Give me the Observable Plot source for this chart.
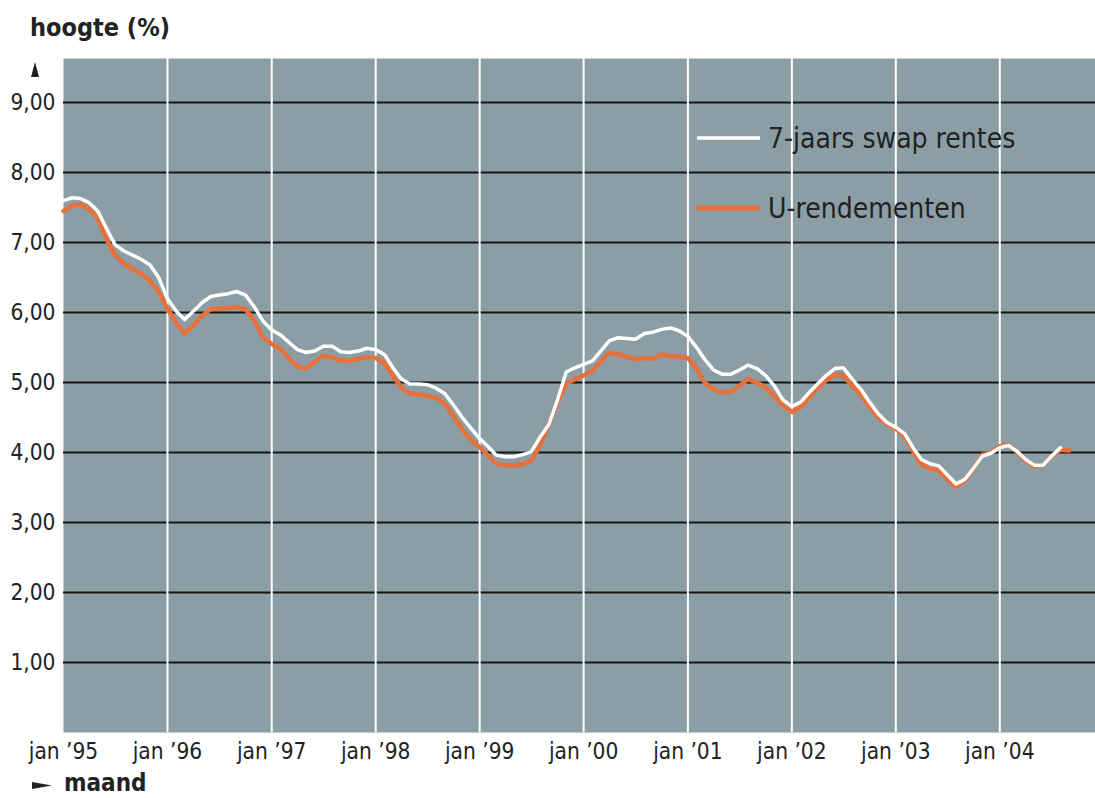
<!DOCTYPE html>
<html>
<head>
<meta charset="utf-8">
<script src="https://cdn.jsdelivr.net/npm/d3@7"></script>
<script src="https://cdn.jsdelivr.net/npm/@observablehq/plot@0.6"></script>
<style>
  html, body { margin: 0; padding: 0; background: #ffffff; }
</style>
</head>
<body>
<div id="chart"></div>
<script>
// ---- data (monthly, starting January 1995) ----
const startYear = 1995;
const seriesNames = ["7-jaars swap rentes", "U-rendementen"];
const swapRentes = [
  7.60, 7.64, 7.63, 7.57, 7.45, 7.20, 6.97, 6.88, 6.82, 6.76, 6.68, 6.50,
  6.20, 6.02, 5.90, 6.02, 6.14, 6.23, 6.25, 6.27, 6.30, 6.25, 6.08, 5.88,
  5.75, 5.68, 5.58, 5.47, 5.43, 5.45, 5.52, 5.52, 5.44, 5.43, 5.45, 5.49,
  5.47, 5.40, 5.22, 5.05, 4.98, 4.98, 4.97, 4.92, 4.84, 4.68, 4.50, 4.35,
  4.20, 4.08, 3.96, 3.94, 3.94, 3.97, 4.01, 4.22, 4.40, 4.75, 5.15, 5.21,
  5.26, 5.31, 5.45, 5.60, 5.64, 5.63, 5.62, 5.70, 5.72, 5.76, 5.78, 5.74,
  5.66, 5.50, 5.33, 5.18, 5.12, 5.12, 5.18, 5.25, 5.20, 5.10, 4.95, 4.75,
  4.66, 4.72, 4.85, 4.98, 5.10, 5.20, 5.21, 5.05, 4.90, 4.72, 4.55, 4.43,
  4.36, 4.27, 4.08, 3.90, 3.84, 3.81, 3.68, 3.55, 3.62, 3.78, 3.95, 3.99,
  4.07, 4.10, 4.02, 3.90, 3.82, 3.82, 3.95, 4.07
];
const uRendementen = [
  7.45, 7.53, 7.55, 7.48, 7.35, 7.05, 6.82, 6.70, 6.62, 6.55, 6.45, 6.30,
  6.05, 5.85, 5.70, 5.82, 5.95, 6.05, 6.06, 6.06, 6.08, 6.05, 5.88, 5.65,
  5.55, 5.48, 5.35, 5.23, 5.20, 5.30, 5.38, 5.36, 5.31, 5.31, 5.34, 5.36,
  5.35, 5.28, 5.10, 4.93, 4.84, 4.83, 4.81, 4.78, 4.70, 4.52, 4.33, 4.18,
  4.08, 3.95, 3.84, 3.82, 3.81, 3.84, 3.88, 4.10, 4.40, 4.72, 4.98, 5.05,
  5.10, 5.17, 5.30, 5.43, 5.40, 5.37, 5.33, 5.35, 5.34, 5.40, 5.38, 5.37,
  5.35, 5.20, 5.00, 4.90, 4.86, 4.87, 4.95, 5.05, 5.00, 4.93, 4.80, 4.67,
  4.58, 4.65, 4.78, 4.92, 5.03, 5.11, 5.10, 4.95, 4.82, 4.65, 4.50, 4.40,
  4.34, 4.24, 4.03, 3.83, 3.77, 3.74, 3.62, 3.51, 3.60, 3.78, 3.97, 4.00,
  4.09, 4.11, 4.01, 3.88, 3.80, 3.82, 3.95, 4.04, 4.03
];
const yTicks = [1, 2, 3, 4, 5, 6, 7, 8, 9];
const xTickYears = [1995, 1996, 1997, 1998, 1999, 2000, 2001, 2002, 2003, 2004];
const yTitle = "hoogte (%)";
const xTitle = "maand";

// ---- build tables ----
const monthDate = i => new Date(Date.UTC(startYear, i, 1));
const swapData = swapRentes.map((v, i) => ({date: monthDate(i), value: v}));
const urendData = uRendementen.map((v, i) => ({date: monthDate(i), value: v}));
const xTicks = xTickYears.map(y => new Date(Date.UTC(y, 0, 1)));

const FONT = "'DejaVu Sans Condensed', 'DejaVu Sans', sans-serif";
const TEXT = "#222222";
const BG = "#8b9ea5";
const ORANGE = "#e8703a";

const chart = Plot.plot({
  width: 1095,
  height: 798,
  marginLeft: 63,
  marginRight: 0,
  marginTop: 58,
  marginBottom: 66,
  style: {background: "#ffffff", fontFamily: FONT, fontSize: "22.5px", color: TEXT},
  x: {
    type: "utc",
    domain: [new Date(Date.UTC(1995, 0, 1)), new Date(Date.UTC(2004, 11, 2))],
    ticks: xTicks,
    tickFormat: d => "jan \u2019" + String(d.getUTCFullYear()).slice(2),
    tickSize: 0,
    tickPadding: 11,
    label: null
  },
  y: {
    domain: [0, 9.63],
    ticks: yTicks,
    tickFormat: d => d.toFixed(2).replace(".", ","),
    tickSize: 0,
    tickPadding: 8,
    label: null
  },
  marks: [
    Plot.frame({fill: BG, stroke: null}),
    Plot.ruleY(yTicks, {stroke: "#161616", strokeWidth: 2}),
    Plot.ruleX(xTicks.slice(1), {stroke: "#ffffff", strokeWidth: 2}),
    Plot.lineY(urendData, {x: "date", y: "value", stroke: ORANGE, strokeWidth: 4.5, strokeLinejoin: "round"}),
    Plot.lineY(swapData, {x: "date", y: "value", stroke: "#ffffff", strokeWidth: 3.5, strokeLinejoin: "round"})
  ]
});

const svg = d3.select(chart);
// titles
svg.append("text").attr("x", 30).attr("y", 36).attr("text-anchor", "start")
  .attr("font-family", FONT).attr("font-size", 25).attr("font-weight", "bold")
  .attr("fill", TEXT).text(yTitle);
svg.append("path").attr("d", "M35,62 L39,77 L31,77 Z").attr("fill", TEXT);
svg.append("path").attr("d", "M32,782 L52,785.5 L32,789 Z").attr("fill", TEXT);
svg.append("text").attr("x", 64).attr("y", 791).attr("text-anchor", "start")
  .attr("font-family", FONT).attr("font-size", 24).attr("font-weight", "bold")
  .attr("fill", TEXT).text(xTitle);

// legend
const legend = [
  {name: seriesNames[0], color: "#ffffff", y: 138, w: 3.5},
  {name: seriesNames[1], color: ORANGE, y: 208, w: 5}
];
legend.forEach(d => {
  svg.append("line").attr("x1", 697).attr("x2", 760).attr("y1", d.y).attr("y2", d.y)
    .attr("stroke", d.color).attr("stroke-width", d.w);
  svg.append("text").attr("x", 768).attr("y", d.y).attr("dy", "0.36em").attr("text-anchor", "start")
    .attr("font-family", FONT).attr("font-size", 28).attr("fill", TEXT).text(d.name);
});

document.getElementById("chart").appendChild(chart);
</script>
</body>
</html>
